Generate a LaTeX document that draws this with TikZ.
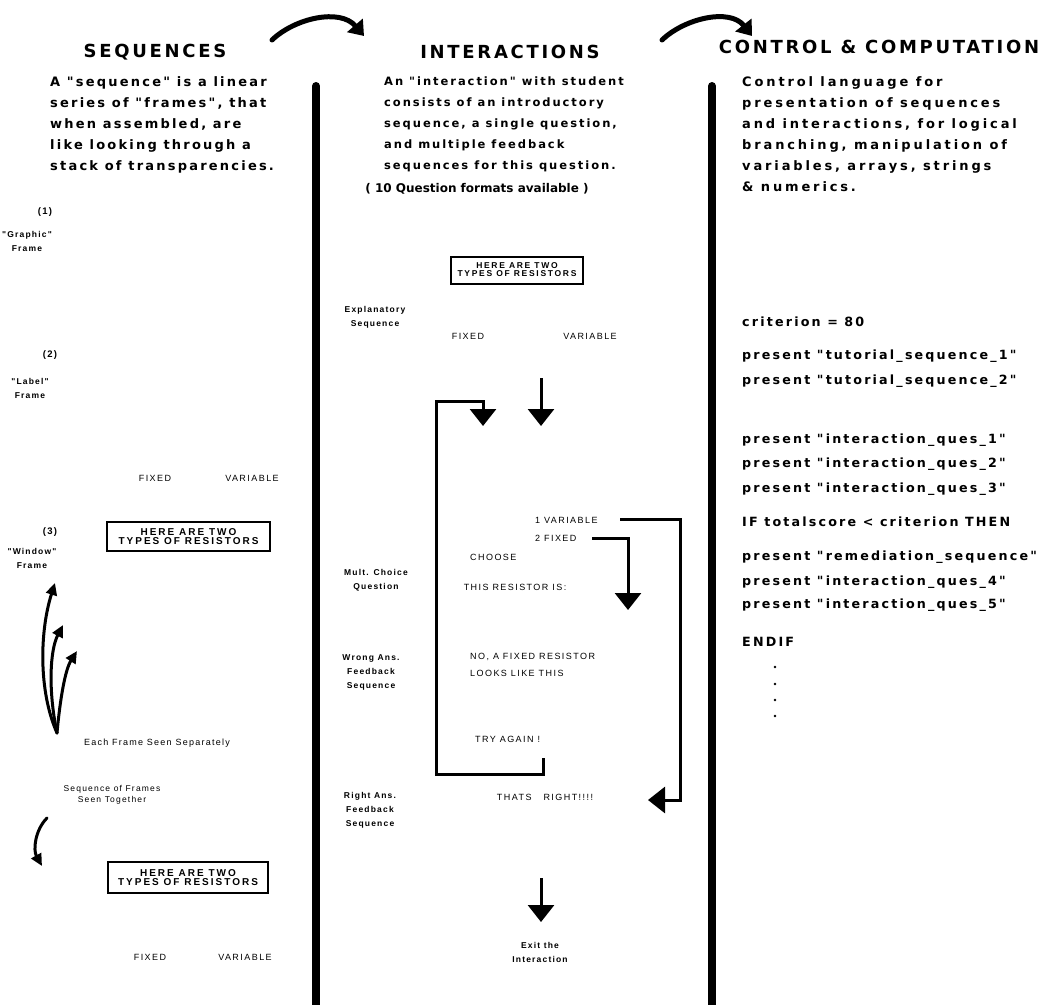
\documentclass[tikz,border=0pt]{standalone}
\usepackage{fontspec}
\setmainfont{Liberation Sans}
\newfontfamily\bodyfont[LetterSpace=17]{DejaVu Sans}
\newfontfamily\widefont[LetterSpace=22]{DejaVu Sans}
\newfontfamily\plainfont{DejaVu Sans}
\newfontfamily\labelfont[LetterSpace=14]{Liberation Sans}
\newfontfamily\screenfont[LetterSpace=16]{Liberation Sans}
\newfontfamily\boxfont[LetterSpace=20]{Liberation Sans}
\newfontfamily\headfont[LetterSpace=15]{DejaVu Sans}
\usetikzlibrary{arrows.meta}
\begin{document}
\begin{tikzpicture}[x=1pt,y=-1pt,
  head/.style={font=\headfont\bfseries\fontsize{18}{20}\selectfont, inner sep=0},
  para/.style={font=\bodyfont\bfseries\fontsize{13}{21}\selectfont, align=left, anchor=north west, inner sep=0},
  code/.style={font=\bodyfont\bfseries\fontsize{12.7}{14}\selectfont, anchor=west, inner sep=0},
  tag/.style={font=\labelfont\bfseries\fontsize{8.5}{14}\selectfont, align=center, inner sep=0},
  num/.style={font=\labelfont\bfseries\fontsize{9.5}{14}\selectfont, inner sep=0},
  scr/.style={font=\screenfont\fontsize{9}{9}\selectfont, inner sep=0},
  winbox/.style={draw, line width=2pt, align=center, inner sep=0, font=\boxfont\bfseries\fontsize{10}{10}\selectfont},
  divider/.style={line width=8pt, line cap=round},
  flow/.style={line width=3pt, -{Triangle[width=26pt,length=17pt]}},
  curvearrow/.style={line width=3pt, line cap=round, -{Triangle[width=11pt,length=12pt]}},
  topbend/.style={line width=5pt, line cap=round, -{Triangle[width=20pt,length=14pt]}},
]
\useasboundingbox (0,0) rectangle (1043,1004);

% column headings
\node[head] (hseq) at (155,52) {SEQUENCES};
\node[head] (hint) at (510,52) {INTERACTIONS};
\node[head] (hcc) at (879,47) {CONTROL \& COMPUTATION};

% arcs linking the headings
\coordinate (a1s) at (272,40);
\coordinate (a1e) at (364,36);
\draw[topbend] (a1s) .. controls (295,18) and (340,8) .. (a1e);
\coordinate (a2s) at (662,40);
\coordinate (a2e) at (752,36);
\draw[topbend] (a2s) .. controls (685,18) and (730,8) .. (a2e);

% column dividers
\coordinate (d1t) at (316,86);
\coordinate (d1b) at (316,1010);
\coordinate (d2t) at (712,86);
\coordinate (d2b) at (712,1010);
\draw[divider] (d1t) -- (d1b);
\draw[divider] (d2t) -- (d2b);

% descriptive paragraphs
\node[para] (seqtext) at (50,76) {A "sequence" is a linear\\series of "frames", that\\when assembled, are\\like looking through a\\stack of transparencies.};
\node[para, font=\bodyfont\bfseries\fontsize{11.5}{21}\selectfont] (inttext) at (384,77) {An "interaction" with student\\consists of an introductory\\sequence, a single question,\\and multiple feedback\\sequences for this question.};
\node[inner sep=0, font=\plainfont\bfseries\fontsize{12}{14}\selectfont] (formats) at (477,189) {( 10 Question formats available )};
\node[para, font=\widefont\bfseries\fontsize{13}{21}\selectfont] (cctext) at (742,76) {Control language for\\presentation of sequences\\and interactions, for logical\\branching, manipulation of\\variables, arrays, strings\\\& numerics.};

% ---- sequences column
\node[num] (n1) at (45,212) {(1)};
\node[tag] (graphic) at (27,241) {"Graphic"\\Frame};
\node[num] (n2) at (50,355) {(2)};
\node[tag] (label) at (30,388) {"Label"\\Frame};
\node[scr] (fix1) at (155,478) {FIXED};
\node[scr] (var1) at (252,478) {VARIABLE};
\node[num] (n3) at (50,532) {(3)};
\node[winbox, minimum width=163, minimum height=29] (win1) at (188.5,536.5) {HERE ARE TWO\\[-1pt]TYPES OF RESISTORS};
\node[tag] (window) at (32,558) {"Window"\\Frame};

\coordinate (fan) at (57,733);
\coordinate (f1) at (55,583);
\coordinate (f2) at (63,625);
\coordinate (f3) at (77,651);
\draw[curvearrow] (fan) .. controls (38,690) and (40,630) .. (f1);
\draw[curvearrow] (fan) .. controls (48,690) and (50,650) .. (f2);
\draw[curvearrow] (fan) .. controls (60,700) and (65,670) .. (f3);

\node[tag, font=\labelfont\fontsize{9}{11}\selectfont] (each) at (157,743) {Each Frame Seen Separately};
\node[tag, font=\labelfont\fontsize{8.5}{11}\selectfont] (together) at (112,795) {Sequence of Frames\\Seen Together};

\coordinate (c1) at (47,818);
\coordinate (c2) at (42,866);
\draw[curvearrow] (c1) .. controls (35,830) and (33,850) .. (c2);

\node[winbox, minimum width=160, minimum height=31] (win2) at (188,877.5) {HERE ARE TWO\\[-1pt]TYPES OF RESISTORS};
\node[scr] (fix2) at (150,957) {FIXED};
\node[scr] (var2) at (245,957) {VARIABLE};

% ---- interactions column
\node[tag] (expl) at (375,317) {Explanatory\\Sequence};
\node[winbox, minimum width=132, minimum height=27, font=\boxfont\bfseries\fontsize{8.5}{9}\selectfont] (win3) at (517,270) {HERE ARE TWO\\[-1pt]TYPES OF RESISTORS};
\node[scr] (fix3) at (468,336) {FIXED};
\node[scr] (var3) at (590,336) {VARIABLE};

\node[tag] (mcq) at (376,580) {Mult. Choice\\Question};
\node[scr] (resis) at (515,587) {THIS RESISTOR IS:};
\node[scr, anchor=west] (opt1) at (535,520) {1 VARIABLE};
\node[scr, anchor=west] (opt2) at (535,538) {2 FIXED};
\node[scr, anchor=west] (choose) at (470,557) {CHOOSE};

\node[tag] (wrong) at (371,672) {Wrong Ans.\\Feedback\\Sequence};
\node[scr, anchor=west] (nofix) at (470,657) {NO, A FIXED RESISTOR};
\node[scr, anchor=west] (looks) at (470,673) {LOOKS LIKE THIS};
\node[scr, anchor=west] (again) at (475,739) {TRY AGAIN !};

\node[tag] (right) at (370,810) {Right Ans.\\Feedback\\Sequence};
\node[scr] (thats) at (545,797) {THATS\hspace{12pt}RIGHT!!!!};
\node[tag] (exit) at (540,952) {Exit the\\Interaction};

% flow between frames
\coordinate (e1) at (541,378);
\coordinate (e2) at (541,426);
\draw[flow] (e1) -- (e2);

\coordinate (l0) at (543,758);
\coordinate (l1) at (543,774);
\coordinate (l2) at (436,774);
\coordinate (l3) at (436,401);
\coordinate (l4) at (483,401);
\coordinate (l5) at (483,426);
\draw[flow] (l0) -- (l1) -- (l2) -- (l3) -- (l4) -- (l5);

\coordinate (r0) at (620,519);
\coordinate (r1) at (680,519);
\coordinate (r2) at (680,800);
\coordinate (r3) at (648,800);
\draw[flow] (r0) -- (r1) -- (r2) -- (r3);

\coordinate (w0) at (592,538);
\coordinate (w1) at (628,538);
\coordinate (w2) at (628,610);
\draw[flow] (w0) -- (w1) -- (w2);

\coordinate (x0) at (541,878);
\coordinate (x1) at (541,922);
\draw[flow] (x0) -- (x1);

% ---- control column
\foreach \yy/\txt [count=\i] in {
  322/criterion = 80,
  356/present "tutorial\_sequence\_1",
  381/present "tutorial\_sequence\_2",
  440/present "interaction\_ques\_1",
  464/present "interaction\_ques\_2",
  489/present "interaction\_ques\_3",
  522/IF totalscore < criterion THEN,
  557/present "remediation\_sequence",
  582/present "interaction\_ques\_4",
  605/present "interaction\_ques\_5",
  642/ENDIF}
  \node[code] (code\i) at (742,\yy) {\txt};

\foreach \yy [count=\i] in {667,684,700,716}
  \fill (775,\yy) circle (1.3) coordinate (dot\i);
\end{tikzpicture}
\end{document}
